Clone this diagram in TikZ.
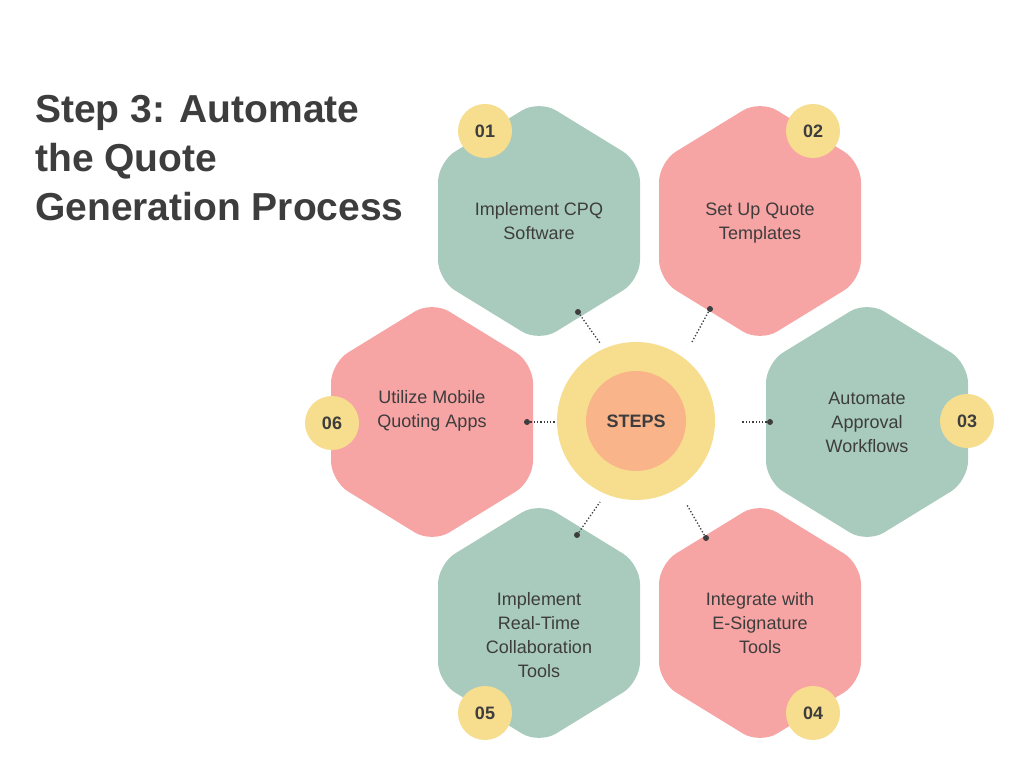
\documentclass[tikz,border=0pt]{standalone}
\usepackage{fontspec}
\setmainfont{Liberation Sans}
\definecolor{hgreen}{HTML}{A9CBBE}
\definecolor{hpink}{HTML}{F7A4A4}
\definecolor{byel}{HTML}{F7DE8E}
\definecolor{corange}{HTML}{F9B48A}
\definecolor{txt}{HTML}{3D3D3D}
\begin{document}
\begin{tikzpicture}[x=1pt,y=1pt,
  lbl/.style={text=txt,font=\fontsize{18}{24}\selectfont,align=center},
  badge/.style={circle,fill=byel,minimum size=54pt,inner sep=0pt,text=txt,font=\bfseries\fontsize{18}{20}\selectfont},
  conn/.style={txt,dotted,line width=1.3pt},
  dotend/.style={circle,fill=txt,inner sep=0pt,minimum size=6pt}]
\useasboundingbox[fill=white] (0,0) rectangle (1024,768);
\newcommand\hexagon[3]{\fill[#3,rounded corners=20pt] (#1,#2+121) -- (#1+101,#2+59) -- (#1+101,#2-59) -- (#1,#2-121) -- (#1-101,#2-59) -- (#1-101,#2+59) -- cycle;}
\hexagon{539}{547}{hgreen}
\hexagon{760}{547}{hpink}
\hexagon{867}{346}{hgreen}
\hexagon{432}{346}{hpink}
\hexagon{539}{145}{hgreen}
\hexagon{760}{145}{hpink}
\node[lbl] (t1) at (539,547) {Implement CPQ\\Software};
\node[lbl] (t2) at (760,545) {Set Up Quote\\Templates};
\node[lbl] (t3) at (867,346) {Automate\\Approval\\Workflows};
\node[lbl] (t6) at (432,357) {Utilize Mobile\\Quoting Apps};
\node[lbl] (t5) at (539,133) {Implement\\Real-Time\\Collaboration\\Tools};
\node[lbl] (t4) at (760,145) {Integrate with\\E-Signature\\Tools};
\node[badge] (b1) at (485,637) {01};
\node[badge] (b2) at (813,637) {02};
\node[badge] (b3) at (967,347) {03};
\node[badge] (b6) at (332,345) {06};
\node[badge] (b5) at (485,55) {05};
\node[badge] (b4) at (813,55) {04};
\node[circle,fill=byel,minimum size=158pt,inner sep=0pt] (outer) at (636,347) {};
\node[circle,fill=corange,minimum size=100pt,inner sep=0pt,text=txt,font=\bfseries\fontsize{18}{20}\selectfont] (center) at (636,347) {STEPS};
\coordinate (c1a) at (578,456); \coordinate (c1b) at (600,425);
\coordinate (c2a) at (710,459); \coordinate (c2b) at (692,426);
\coordinate (c3a) at (770,346); \coordinate (c3b) at (742,346);
\coordinate (c6a) at (527,346); \coordinate (c6b) at (556,346);
\coordinate (c5a) at (577,233); \coordinate (c5b) at (600,266);
\coordinate (c4a) at (706,230); \coordinate (c4b) at (687,263);
\foreach \a/\b in {c1a/c1b,c2a/c2b,c3a/c3b,c6a/c6b,c5a/c5b,c4a/c4b}{
  \draw[conn] (\a) -- (\b); \node[dotend] at (\a) {};}
\node[anchor=north west,text=txt,font=\bfseries\fontsize{39}{49}\selectfont,align=left,inner sep=0pt] (title) at (35,673) {Step 3: Automate\\the Quote\\Generation Process};
\end{tikzpicture}
\end{document}
